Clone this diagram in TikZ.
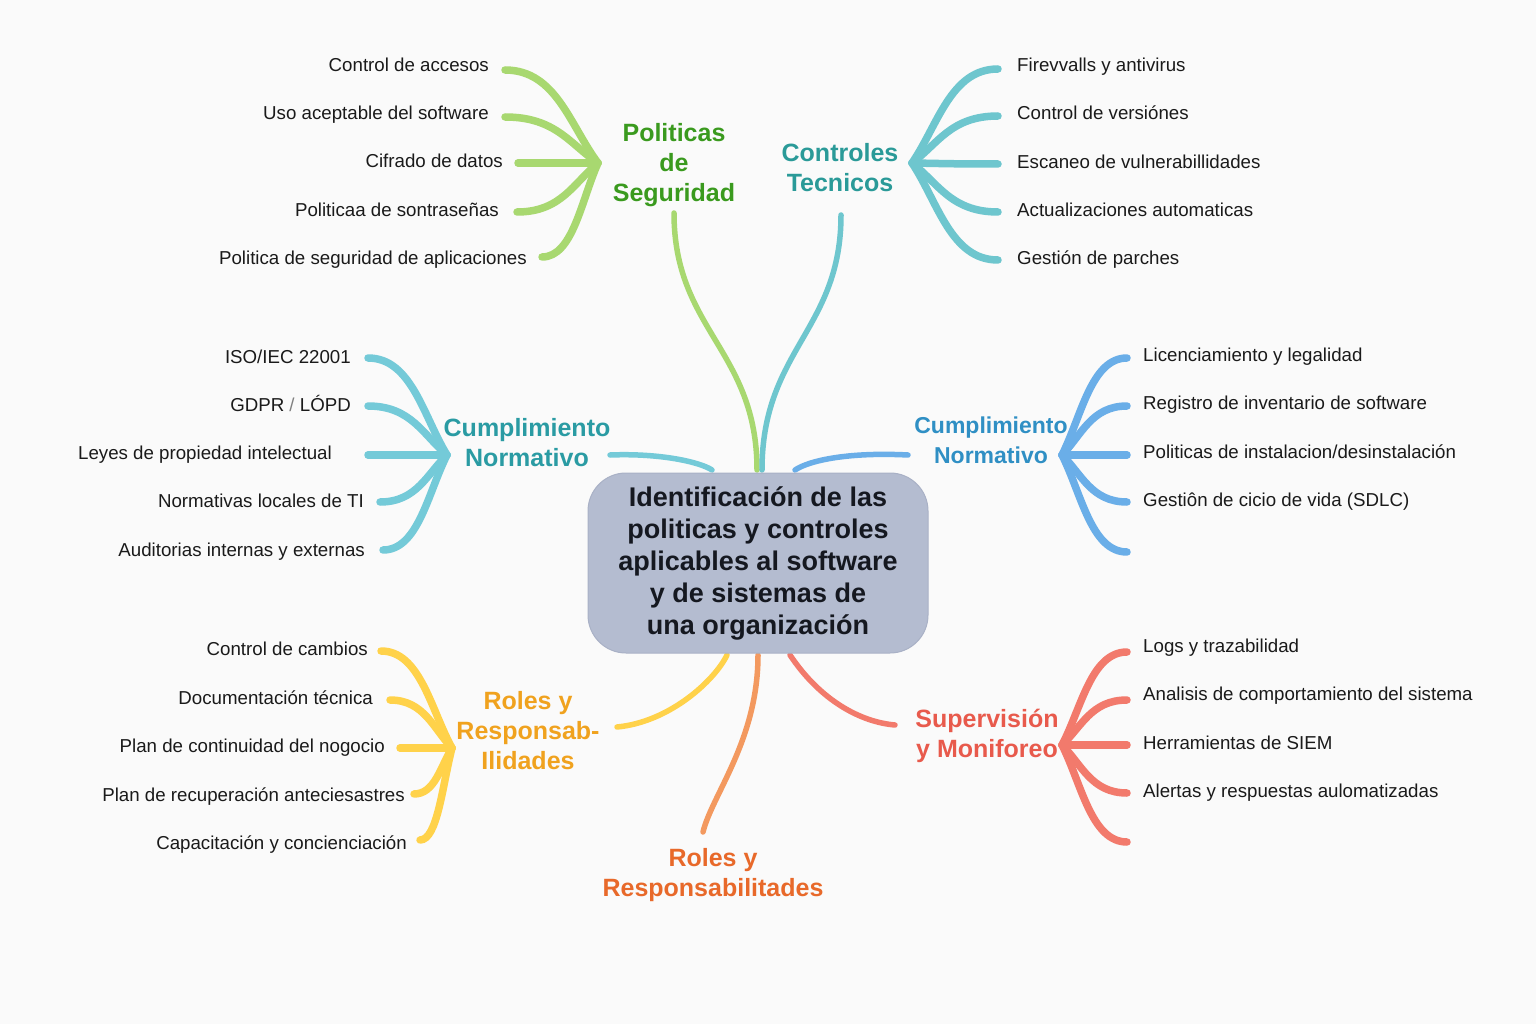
\documentclass[tikz,border=0pt]{standalone}
\usepackage{fontspec}
\setmainfont{Liberation Sans}
\definecolor{bgc}{HTML}{FAFAFA}
\definecolor{leaftext}{HTML}{1A1A1A}
\definecolor{greenL}{HTML}{A8D870}
\definecolor{greenT}{HTML}{3A9A1E}
\definecolor{tealL}{HTML}{6EC6CE}
\definecolor{tealT}{HTML}{2A9A98}
\definecolor{cyanL}{HTML}{74CAD8}
\definecolor{cyanT}{HTML}{2A9BA3}
\definecolor{blueL}{HTML}{6AAEE8}
\definecolor{blueT}{HTML}{2F8FC4}
\definecolor{yellowL}{HTML}{FFD24A}
\definecolor{yellowT}{HTML}{F0A21E}
\definecolor{orangeL}{HTML}{F3995F}
\definecolor{orangeT}{HTML}{E8692A}
\definecolor{redL}{HTML}{F27A6C}
\definecolor{redT}{HTML}{E85A4C}
\definecolor{boxF}{HTML}{B4BCD0}
\definecolor{boxD}{HTML}{A9B1C6}
\definecolor{boxT}{HTML}{151820}
% left fan: leaf end (#3,#4) into hub (#5,#6) named #7
\newcommand\fanL[7]{%
  \coordinate (#1) at (#3,#4);
  \pgfmathsetmacro\fdx{#5-#3}\pgfmathsetmacro\fdy{#4-#6}%
  \draw[branch,#2] (#1) .. controls +(0.55*\fdx,0) and +(-0.3*\fdx,0.4*\fdy) .. (#7);}
% right fan: hub (#5,#6) named #7 out to leaf end (#3,#4)
\newcommand\fanR[7]{%
  \coordinate (#1) at (#3,#4);
  \pgfmathsetmacro\fdx{#3-#5}\pgfmathsetmacro\fdy{#4-#6}%
  \draw[branch,#2] (#7) .. controls +(0.3*\fdx,0.4*\fdy) and +(-0.55*\fdx,0) .. (#1);}
\begin{document}
\begin{tikzpicture}[x=1pt,y=-1pt,
  leaf/.style={font=\fontsize{18.7}{20}\selectfont, text=leaftext, inner sep=0pt},
  lleaf/.style={leaf, anchor=base east},
  rleaf/.style={leaf, anchor=base west},
  head/.style={font=\fontsize{25}{30}\selectfont\bfseries, align=center, inner sep=0pt},
  branch/.style={line width=7.5pt, line cap=round},
  trunk/.style={line width=5.5pt, line cap=round}]
\fill[bgc] (0,0) rectangle (1536,1024);
\useasboundingbox (0,0) rectangle (1536,1024);

% ---------- trunk end points ----------
\coordinate (PSb) at (674,213);
\coordinate (CTb) at (841,215);
\coordinate (CLb) at (610,455);
\coordinate (CRb) at (908,455);
\coordinate (RLb) at (617,727);
\coordinate (RBb) at (703,832);
\coordinate (SMb) at (895,725);
\coordinate (cPS) at (757,470);
\coordinate (cCT) at (762,470);
\coordinate (cCL) at (712,470);
\coordinate (cCR) at (795,470);
\coordinate (cRL) at (727,655);
\coordinate (cRB) at (758,655);
\coordinate (cSM) at (790,655);

% ---------- trunks ----------
\draw[trunk,greenL] (PSb) .. controls (674,330) and (757,350) .. (cPS);
\draw[trunk,tealL] (CTb) .. controls (841,330) and (762,350) .. (cCT);
\draw[trunk,cyanL] (CLb) .. controls (660,453) and (700,462) .. (cCL);
\draw[trunk,blueL] (CRb) .. controls (850,452) and (810,460) .. (cCR);
\draw[trunk,yellowL] (RLb) .. controls (670,722) and (715,680) .. (cRL);
\draw[trunk,orangeL] (cRB) .. controls (758,740) and (712,795) .. (RBb);
\draw[trunk,redL] (cSM) .. controls (820,700) and (860,722) .. (SMb);

% ---------- center ----------
\node[draw=boxD, fill=boxF, line width=1pt, rounded corners=38pt,
      minimum width=340pt, minimum height=180pt, align=center,
      text=boxT, font=\fontsize{27}{32}\selectfont\bfseries] (center) at (758,563)
  {Identificación de las\\politicas y controles\\aplicables al software\\y de sistemas de\\una organización};

% ---------- Politicas de Seguridad ----------
\coordinate (PSh) at (598,163);
\fanL{ps1}{greenL}{505}{70}{598}{163}{PSh}
\fanL{ps2}{greenL}{505}{117}{598}{163}{PSh}
\fanL{ps3}{greenL}{518}{163}{598}{163}{PSh}
\fanL{ps4}{greenL}{517}{212}{598}{163}{PSh}
\fanL{ps5}{greenL}{542}{257}{598}{163}{PSh}
\node[head,text=greenT] (PS) at (674,165) {Politicas\\de\\Seguridad};
\node[lleaf] (pst1) at (489,71.5) {Control de accesos};
\node[lleaf] (pst2) at (489,119.5) {Uso aceptable del software};
\node[lleaf] (pst3) at (503,167.5) {Cifrado de datos};
\node[lleaf] (pst4) at (499,216.5) {Politicaa de sontraseñas};
\node[lleaf] (pst5) at (527,264.5) {Politica de seguridad de aplicaciones};

% ---------- Controles Tecnicos ----------
\coordinate (CTh) at (912,163);
\fanR{ct1}{tealL}{998}{69}{912}{163}{CTh}
\fanR{ct2}{tealL}{998}{116}{912}{163}{CTh}
\fanR{ct3}{tealL}{998}{164}{912}{163}{CTh}
\fanR{ct4}{tealL}{998}{212}{912}{163}{CTh}
\fanR{ct5}{tealL}{998}{260}{912}{163}{CTh}
\node[head,text=tealT] (CT) at (840,168) {Controles\\Tecnicos};
\node[rleaf] (ctt1) at (1017,71.5) {Firevvalls y antivirus};
\node[rleaf] (ctt2) at (1017,119.5) {Control de versiónes};
\node[rleaf] (ctt3) at (1017,168.5) {Escaneo de vulnerabillidades};
\node[rleaf] (ctt4) at (1017,216.5) {Actualizaciones automaticas};
\node[rleaf] (ctt5) at (1017,264.5) {Gestión de parches};

% ---------- Cumplimiento Normativo (left) ----------
\coordinate (CLh) at (447,455);
\fanL{cl1}{cyanL}{368}{358}{447}{455}{CLh}
\fanL{cl2}{cyanL}{368}{406}{447}{455}{CLh}
\fanL{cl3}{cyanL}{368}{455}{447}{455}{CLh}
\fanL{cl4}{cyanL}{380}{502}{447}{455}{CLh}
\fanL{cl5}{cyanL}{383}{550}{447}{455}{CLh}
\node[head,text=cyanT] (CL) at (527,443) {Cumplimiento\\Normativo};
\node[lleaf] (clt1) at (351,363.5) {ISO/IEC 22001};
\node[lleaf] (clt2) at (351,411.5) {GDPR {\color{gray}/} LÓPD};
\node[lleaf] (clt3) at (332,459.5) {Leyes de propiedad intelectual};
\node[lleaf] (clt4) at (364,507.5) {Normativas locales de TI};
\node[lleaf] (clt5) at (365,556.5) {Auditorias internas y externas};

% ---------- Cumplimiento Normativo (right) ----------
\coordinate (CRh) at (1062,455);
\fanR{cr1}{blueL}{1127}{358}{1062}{455}{CRh}
\fanR{cr2}{blueL}{1127}{406}{1062}{455}{CRh}
\fanR{cr3}{blueL}{1127}{455}{1062}{455}{CRh}
\fanR{cr4}{blueL}{1127}{502}{1062}{455}{CRh}
\fanR{cr5}{blueL}{1127}{552}{1062}{455}{CRh}
\node[head,text=blueT,font=\fontsize{23}{30}\selectfont\bfseries] (CR) at (991,440) {Cumplimiento\\Normativo};
\node[rleaf] (crt1) at (1143,361.5) {Licenciamiento y legalidad};
\node[rleaf] (crt2) at (1143,409.5) {Registro de inventario de software};
\node[rleaf] (crt3) at (1143,458.5) {Politicas de instalacion/desinstalación};
\node[rleaf] (crt4) at (1143,506.5) {Gestiôn de cicio de vida (SDLC)};

% ---------- Roles y Responsabilidades (left) ----------
\coordinate (RLh) at (452,748);
\fanL{rl1}{yellowL}{381}{651}{452}{748}{RLh}
\fanL{rl2}{yellowL}{390}{700}{452}{748}{RLh}
\fanL{rl3}{yellowL}{400}{748}{452}{748}{RLh}
\fanL{rl4}{yellowL}{414}{794}{452}{748}{RLh}
\fanL{rl5}{yellowL}{420}{840}{452}{748}{RLh}
\node[head,text=yellowT] (RL) at (528,731) {Roles y\\Responsab-\\Ilidades};
\node[lleaf] (rlt1) at (368,655.5) {Control de cambios};
\node[lleaf] (rlt2) at (373,704.5) {Documentación técnica};
\node[lleaf] (rlt3) at (385,752.5) {Plan de continuidad del nogocio};
\node[lleaf] (rlt4) at (405,801.5) {Plan de recuperación anteciesastres};
\node[lleaf] (rlt5) at (407,849.5) {Capacitación y concienciación};

% ---------- Roles y Responsabilitades (bottom) ----------
\node[head,text=orangeT] (RB) at (713,875) {Roles y\\Responsabilitades};

% ---------- Supervision y Monitoreo ----------
\coordinate (SMh) at (1062,745);
\fanR{sm1}{redL}{1127}{652}{1062}{745}{SMh}
\fanR{sm2}{redL}{1127}{700}{1062}{745}{SMh}
\fanR{sm3}{redL}{1127}{745}{1062}{745}{SMh}
\fanR{sm4}{redL}{1127}{793}{1062}{745}{SMh}
\fanR{sm5}{redL}{1127}{842}{1062}{745}{SMh}
\node[head,text=redT] (SM) at (987,736) {Supervisión\\y Moniforeo};
\node[rleaf] (smt1) at (1143,652.5) {Logs y trazabilidad};
\node[rleaf] (smt2) at (1143,700.5) {Analisis de comportamiento del sistema};
\node[rleaf] (smt3) at (1143,749.5) {Herramientas de SIEM};
\node[rleaf] (smt4) at (1143,797.5) {Alertas y respuestas aulomatizadas};
\end{tikzpicture}
\end{document}
